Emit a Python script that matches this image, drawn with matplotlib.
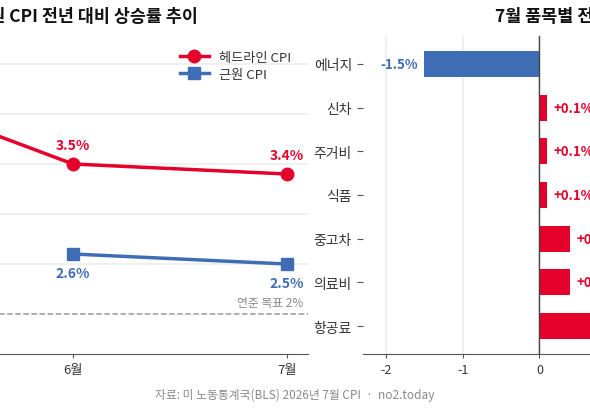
import matplotlib
matplotlib.use("Agg")
import matplotlib.pyplot as plt

plt.rcParams['font.family'] = ['Noto Sans CJK KR', 'DejaVu Sans']

RED = '#E4002B'
BLUE = '#3F6DB5'

# --- 추이 데이터 ---
months = ['5월', '6월', '7월']
headline = [4.3, 3.5, 3.4]
core_months = ['6월', '7월']
core = [2.6, 2.5]
target = 2.0

# --- 품목별 데이터 ---
items = ['에너지', '신차', '주거비', '식품', '중고차', '의료비', '항공료']
changes = [-1.5, 0.1, 0.1, 0.1, 0.4, 0.4, 2.0]

W, H = 590, 410
fig = plt.figure(figsize=(W / 100, H / 100), dpi=100)

def box(l, t, r, b):
    return [l / W, 1 - b / H, (r - l) / W, (b - t) / H]

# 왼쪽: 추이
ax = fig.add_axes(box(-162, 40, 308, 355))
xpos = {m: i for i, m in enumerate(months)}
hx = [xpos[m] for m in months]
cx = [xpos[m] for m in core_months]
ax.plot(hx, headline, color=RED, lw=2.5, marker='o', ms=9, label='헤드라인 CPI', zorder=3)
ax.plot(cx, core, color=BLUE, lw=2.5, marker='s', ms=8, label='근원 CPI', zorder=3)
for x, v in zip(hx[1:], headline[1:]):
    ax.annotate(f'{v:.1f}%', (x, v), xytext=(0, 9), textcoords='offset points',
                ha='center', va='bottom', color=RED, fontsize=10, fontweight='bold')
for x, v in zip(cx, core):
    ax.annotate(f'{v:.1f}%', (x, v), xytext=(0, -9), textcoords='offset points',
                ha='center', va='top', color=BLUE, fontsize=10, fontweight='bold')
ax.axhline(target, color='#999999', ls='--', lw=1.1)
ax.text(2.08, target + 0.05, '연준 목표 2%', ha='right', va='bottom', color='#888888', fontsize=8.5)
ax.set_xlim(-0.1, 2.1)
ax.set_ylim(1.6, 4.75)
ax.set_yticks([2.5, 3.0, 3.5, 4.0, 4.5])
ax.set_yticklabels([])
ax.tick_params(axis='y', length=0)
ax.grid(axis='y', color='#eeeeee', lw=1.2)
ax.set_axisbelow(True)
ax.set_xticks(hx)
ax.set_xticklabels(months, fontsize=9.5, color='#333333')
ax.tick_params(axis='x', color='#555555', length=3)
for s in ['top', 'right', 'left']:
    ax.spines[s].set_visible(False)
ax.spines['bottom'].set_color('#555555')
leg = ax.legend(loc='upper right', bbox_to_anchor=(0.99, 1.0), frameon=False, fontsize=9.5,
                handlelength=2.2, labelspacing=0.3)
for t in leg.get_texts():
    t.set_color('#333333')

# 오른쪽: 품목별
bx = fig.add_axes(box(363, 37, 900, 355))
ypos = list(range(len(items)))
colors = [BLUE if v < 0 else RED for v in changes]
bx.barh(ypos, changes, height=0.6, color=colors)
for y, v in zip(ypos, changes):
    if v < 0:
        bx.text(v - 0.08, y, f'{v:.1f}%', ha='right', va='center', color=BLUE,
                fontsize=9.5, fontweight='bold')
    else:
        bx.text(v + 0.08, y, f'+{v:.1f}%', ha='left', va='center', color=RED,
                fontsize=9.5, fontweight='bold')
bx.axvline(0, color='#444444', lw=1)
bx.set_ylim(6.64, -0.64)
bx.set_xlim(-2.3, 4.7)
bx.set_yticks(ypos)
bx.set_yticklabels(items, fontsize=10, color='#333333')
bx.set_xticks([-2, -1, 0, 1, 2, 3, 4])
bx.set_xticklabels(['-2', '-1', '0', '1', '2', '3', '4'], fontsize=9, color='#333333')
bx.tick_params(axis='y', length=4, color='#555555', pad=4)
bx.tick_params(axis='x', length=3, color='#555555')
bx.grid(axis='x', color='#eeeeee', lw=1.2)
bx.set_axisbelow(True)
for s in ['top', 'right', 'left']:
    bx.spines[s].set_visible(False)
bx.spines['bottom'].set_color('#555555')

fig.text(198 / W, 1 - 17 / H, '헤드라인·근원 CPI 전년 대비 상승률 추이', ha='right', va='center',
         fontsize=12.5, fontweight='bold', color='#111111')
fig.text(495 / W, 1 - 17 / H, '7월 품목별 전월 대비 상승률', ha='left', va='center',
         fontsize=12.5, fontweight='bold', color='#111111')
fig.text(0.5, 1 - 395 / H, '자료: 미 노동통계국(BLS) 2026년 7월 CPI  ·  no2.today', ha='center',
         va='center', fontsize=8.5, color='#888888')

fig.savefig('out.png', dpi=100)
